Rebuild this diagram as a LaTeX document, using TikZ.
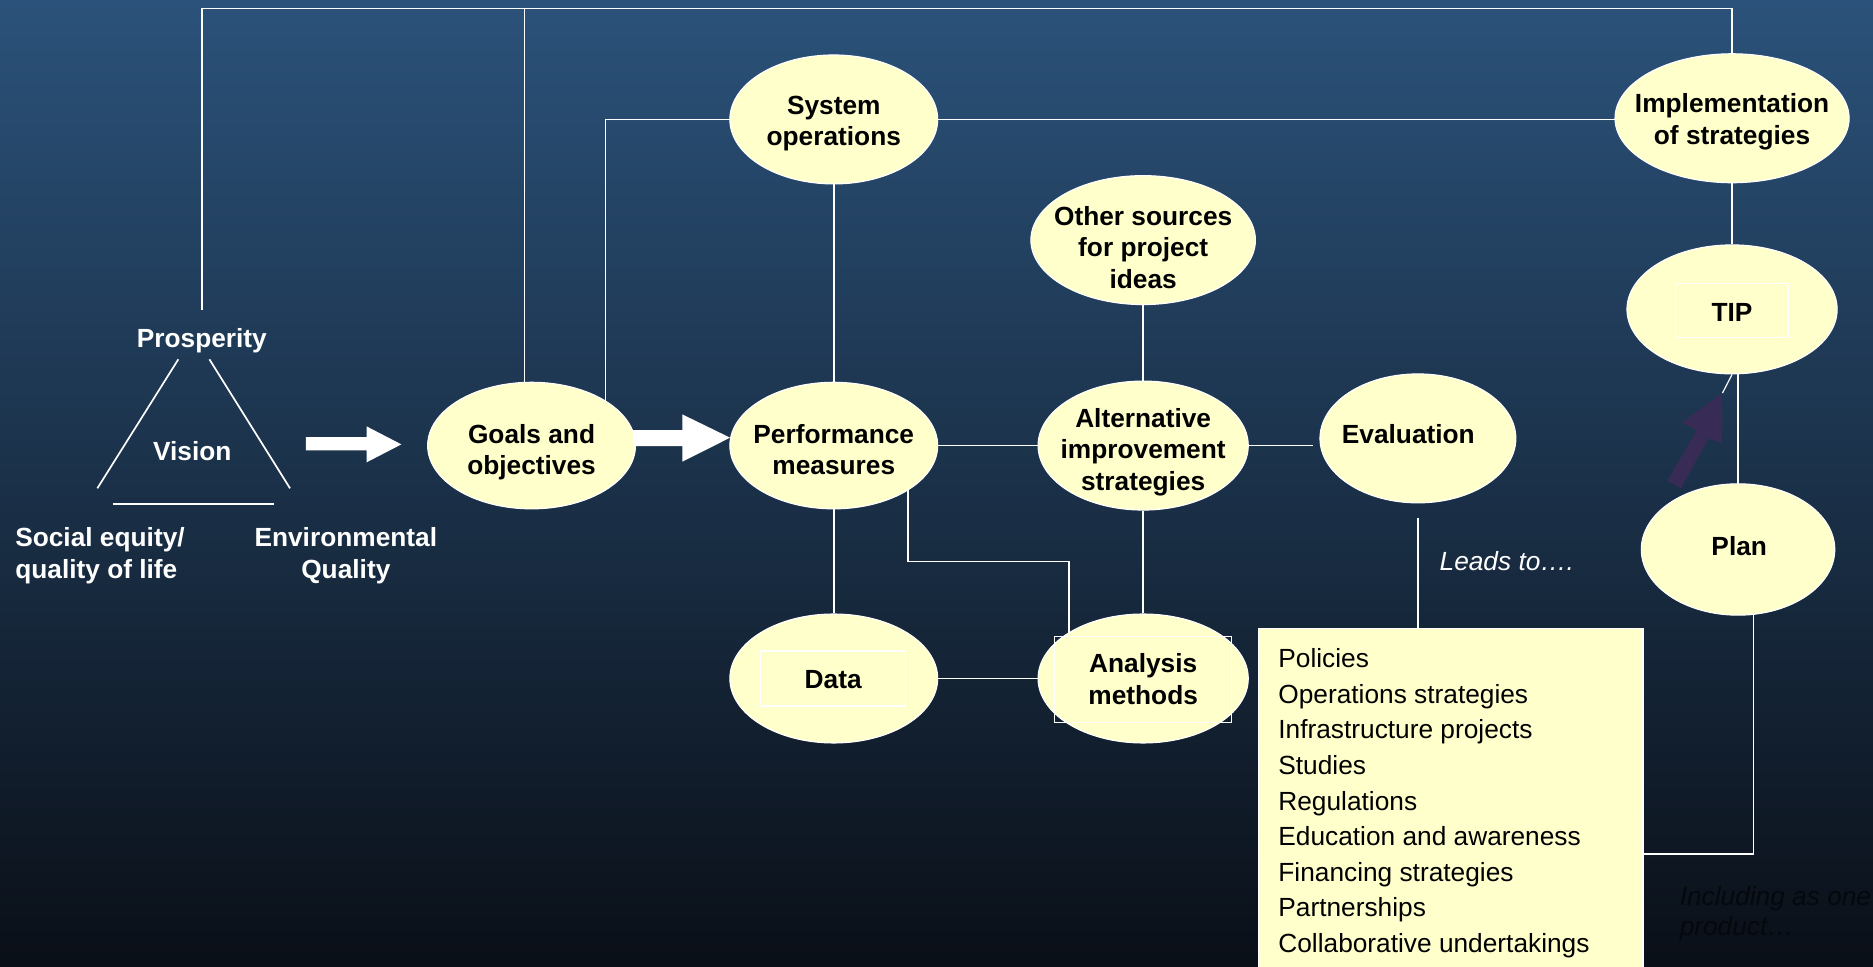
\documentclass[tikz,border=0pt]{standalone}
\usepackage{fontspec}
\setmainfont{Liberation Sans}
\usetikzlibrary{shapes.geometric,calc}
\definecolor{bgtop}{RGB}{43,82,122}
\definecolor{bgmid}{RGB}{30,57,88}
\definecolor{bgbot}{RGB}{10,15,23}
\definecolor{cream}{RGB}{255,255,204}
\definecolor{arrowpurple}{RGB}{56,44,86}
\definecolor{darktext}{RGB}{5,8,12}
\pgfdeclarelayer{back}
\pgfdeclarelayer{bg}
\pgfsetlayers{back,bg,main}
\tikzset{
  ell/.style={ellipse, draw=white, line width=0.9pt, fill=cream, inner sep=0pt},
  lbl/.style={align=center, font=\bfseries\fontsize{22}{26.5}\selectfont, text=black, inner sep=0pt},
  wlbl/.style={align=center, font=\bfseries\fontsize{22}{26.5}\selectfont, text=white, inner sep=0pt},
  conn/.style={draw=white, line width=1.4pt},
  frame/.style={draw=white, line width=0.9pt},
  listbox/.style={draw=white, line width=0.9pt, fill=cream, inner sep=0pt},
  listtext/.style={font=\fontsize{22}{29.75}\selectfont, text=black, align=left, inner sep=0pt},
  note/.style={font=\itshape\fontsize{22}{25}\selectfont, inner sep=0pt, align=left},
}
\begin{document}
\begin{tikzpicture}[x=1pt,y=-1pt]
\useasboundingbox (0,0) rectangle (1568,809);
\begin{pgfonlayer}{back}
  \shade[top color=bgtop, middle color=bgmid, bottom color=bgbot] (0,0) rectangle (1568,809);
\end{pgfonlayer}

% ellipses
\node[ell, minimum width=174, minimum height=108] (sys)   at (698,100) {};
\node[ell, minimum width=196, minimum height=108] (impl)  at (1450,99) {};
\node[ell, minimum width=188, minimum height=108] (other) at (957,201) {};
\node[ell, minimum width=176, minimum height=108] (tip)   at (1450,259) {};
\node[ell, minimum width=174, minimum height=106] (goals) at (445,373) {};
\node[ell, minimum width=174, minimum height=106] (perf)  at (698,373) {};
\node[ell, minimum width=176, minimum height=108] (alt)   at (957,373) {};
\node[ell, minimum width=164, minimum height=108] (eval)  at (1187,367) {};
\node[ell, minimum width=162, minimum height=110] (plan)  at (1455,460) {};
\node[ell, minimum width=174, minimum height=108] (data)  at (698,568) {};
\node[ell, minimum width=176, minimum height=108] (anal)  at (957,568) {};

% labels
\node[lbl] (tsys)   at (698,103.5) {System\\operations};
\node[lbl] (timpl)  at (1450,102)  {Implementation\\of strategies};
\node[lbl] (tother) at (957,207)   {Other sources\\for project\\ideas};
\node[lbl, frame, text height=18.3pt, text depth=0pt, minimum width=94, minimum height=45] (ttip) at (1450,259.75) {TIP};
\node[lbl] (tgoals) at (445,378.5) {Goals and\\objectives};
\node[lbl] (tperf)  at (698,376.5) {Performance\\measures};
\node[lbl] (talt)   at (957,378.5) {Alternative\\improvement\\strategies};
\node[lbl] (teval)  at (1179,363)  {Evaluation};
\node[lbl] (tplan)  at (1456,457)  {Plan};
\node[lbl, frame, text height=16.8pt, text depth=0pt, minimum width=121, minimum height=46] (tdata) at (697.5,568) {Data};
\node[lbl, frame, minimum width=148, minimum height=72] (tanal) at (957,568.5) {Analysis\\methods};

% vision triangle labels
\node[wlbl, anchor=base] (pros) at (169,290.5) {Prosperity};
\node[wlbl, anchor=base] (vision) at (161,385.5) {Vision};
\node[wlbl, anchor=west, align=left] (social) at (12.6,465.4) {Social equity/\\quality of life};
\node[wlbl] (env) at (289.5,465.4) {Environmental\\Quality};

% list box
\node[listbox, anchor=north west, minimum width=322, minimum height=290] (list) at (1053,526) {};
\node[listtext, anchor=north west] (items) at (1070,543) {Policies\\Operations strategies\\Infrastructure projects\\Studies\\Regulations\\Education and awareness\\Financing strategies\\Partnerships\\Collaborative undertakings};

% notes
\node[note, text=white, anchor=base west] (leads) at (1205,478) {Leads to\ldots.};
\node[note, text=darktext, anchor=north west] (incl) at (1406,742) {Including as one\\product\ldots};

% helper coordinates
\coordinate (ytop) at (0,7);
\coordinate (jgoal) at (439,7);
\coordinate (xgs) at (507,0);
\coordinate (elbowA) at (760,470);
\coordinate (elbowB) at (895,470);
\coordinate (planc) at (1468,715);
\coordinate (arrowtip) at (1442,329);

% connectors
\begin{pgfonlayer}{bg}
  \draw[conn] ([yshift=14.5pt]pros.north) -- (pros.north |- ytop) -| (impl.center);
  \draw[conn] (goals.center -| jgoal) -- (jgoal);
  \draw[conn] (goals.center -| xgs) |- (sys.center);
  \draw[conn] (sys.center) -- (sys.center -| impl.center);
  \draw[conn] (sys) -- (perf);
  \draw[conn] (perf) -- (alt);
  \draw[conn, shorten >=5pt] (alt.center) -- (alt.center -| eval.west);
  \draw[conn] (other) -- (alt);
  \draw[conn] (alt) -- (anal);
  \draw[conn] (perf) -- (data);
  \draw[conn] (data) -- (anal);
  \draw[conn] (perf.center -| elbowA) -- (elbowA) -- (elbowB) -- (anal.center -| elbowB);
  \draw[conn] ([yshift=-12pt]eval.south) -- (eval.south |- list.north);
  \draw[conn] (plan.center -| planc) -- (planc) -- (planc -| list.east);
  \draw[conn] (impl) -- (tip);
  \draw[conn] (tip.center -| plan.center) -- (plan.center);
\end{pgfonlayer}
\draw[conn, line width=1pt] (tip.south) -- (arrowtip);

% vision triangle
\draw[conn] (149.3,300.8) -- (81.5,408.8);
\draw[conn] (175.3,300.8) -- (242.8,408.8);
\draw[conn] (94.9,422) -- (229.7,422);

% block arrows
\fill[white] (256,366) -- (307,366) -- (307,357) -- (336,372) -- (307,387) -- (307,377) -- (256,377) -- cycle;
\fill[white] (530,360) -- (571.2,360) -- (571.2,346.9) -- (611.2,366.4) -- (571.2,386.5) -- (571.2,373.4) -- (530,373.4) -- cycle;
\fill[arrowpurple] (1441.4,329.3) -- (1407.9,353.9) -- (1420.4,360) -- (1395.9,402.4) -- (1407.1,408.8) -- (1430.2,367) -- (1441.4,371.1) -- cycle;
\end{tikzpicture}
\end{document}
